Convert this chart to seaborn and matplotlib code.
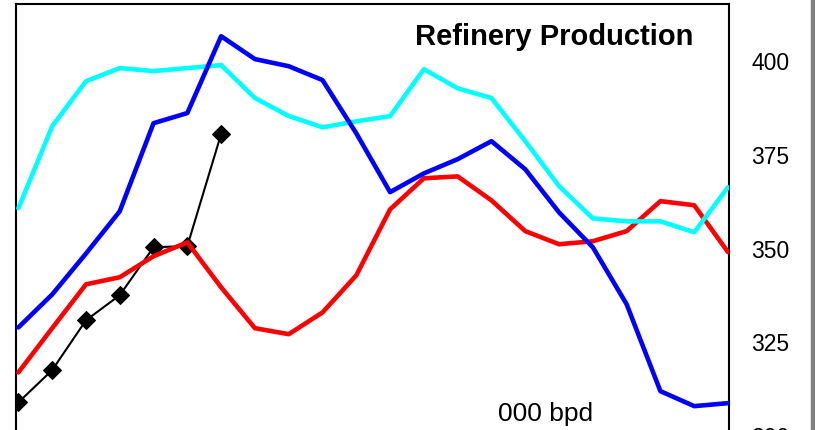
import numpy as np
import pandas as pd
import matplotlib
matplotlib.use("Agg")
import matplotlib.pyplot as plt
import seaborn as sns
from matplotlib.patches import Rectangle

# --- data (000 bpd), one value per period ---
periods = list(range(22))
blue_vals = [328.7, 337.5, 348.4, 359.7, 383.2, 385.9, 406.4, 400.3, 398.4, 394.7, 380.5,
             364.8, 369.8, 373.6, 378.4, 370.9, 359.4, 350.1, 334.9, 311.7, 307.7, 308.5]
cyan_vals = [360.5, 382.4, 394.4, 397.9, 397.1, 397.9, 398.7, 389.9, 385.1, 382.1, 383.7,
             385.1, 397.6, 392.5, 389.9, 378.4, 366.4, 357.8, 357.0, 357.0, 354.1, 366.1]
red_vals = [316.7, 328.5, 340.2, 342.1, 347.7, 351.4, 339.4, 328.5, 326.9, 332.7, 342.6,
            360.2, 368.5, 369.0, 362.6, 354.4, 350.9, 351.7, 354.4, 362.4, 361.3, 348.8]
black_vals = [308.7, 317.3, 330.6, 337.3, 350.1, 350.4, 380.3]
y_ticks = [300, 325, 350, 375, 400]

sns.set_style("white")
plt.rcParams['font.family'] = ['Liberation Sans', 'DejaVu Sans']
plt.rcParams['text.color'] = 'black'
plt.rcParams['ytick.color'] = 'black'

fig = plt.figure(figsize=(8.15, 4.31), dpi=100)
ax = fig.add_axes([16 / 815, -5 / 431, 713 / 815, 431 / 431])

# --- lines ---
sns.lineplot(x=periods[:len(black_vals)], y=black_vals, color="black", lw=1.5,
             marker="D", markersize=9, markeredgecolor="black", ax=ax, zorder=2)
sns.lineplot(x=periods, y=red_vals, color="#ff0000", lw=3.3, ax=ax, zorder=3)
sns.lineplot(x=periods, y=cyan_vals, color="#00ffff", lw=3.3, ax=ax, zorder=4)
sns.lineplot(x=periods, y=blue_vals, color="#0000ff", lw=3.3, ax=ax, zorder=5)

ax.set_xlim(-0.07, 21.03)
ax.set_ylim(300, 415)
ax.set_xticks([])
ax.yaxis.tick_right()
ax.set_yticks(y_ticks)
ax.tick_params(axis="y", length=0, labelsize=16.5, pad=16, labelcolor="black")
for s in ax.spines.values():
    s.set_color("black")
    s.set_linewidth(1.5)
ax.set_xlabel("")
ax.set_ylabel("")

ax.text(0.9495, 0.926, "Refinery Production", transform=ax.transAxes,
        ha="right", va="center", fontsize=21, fontweight="bold", color="black")
ax.text(0.7426, 0.052, "000 bpd", transform=ax.transAxes,
        ha="center", va="center", fontsize=19, color="black")

# grey strip at the right edge
fig.patches.append(Rectangle((811 / 815, 0), 4 / 815, 1, transform=fig.transFigure,
                             color="#808080", zorder=0))

fig.savefig("out.png", dpi=100)
